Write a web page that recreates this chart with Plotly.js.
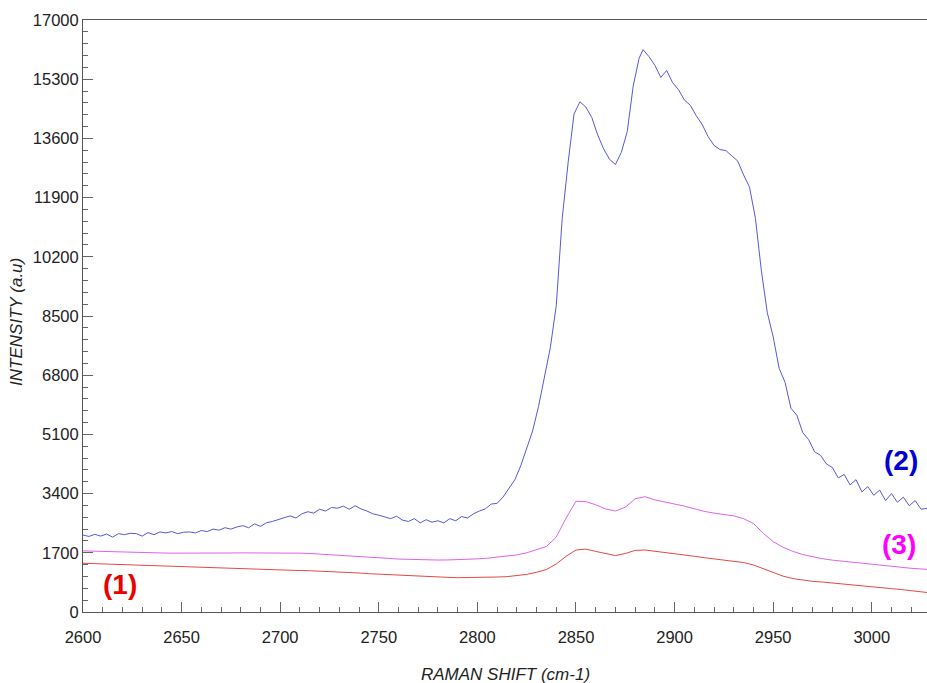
<!DOCTYPE html>
<html>
<head>
<meta charset="utf-8">
<script src="https://cdn.plot.ly/plotly-3.0.1.min.js"></script>
<style>
html,body{margin:0;padding:0;background:#fff;}
#chart{width:927px;height:683px;}
</style>
</head>
<body>
<div id="chart"></div>
<script>
// Raman shift (cm-1) and intensity (a.u.)
const shift2 = [2600,2603,2606,2609,2612,2615,2618,2621,2624,2627,2630,2633,2636,2639,2642,2645,2648,2651,2654,2657,2660,2663,2666,2669,2672,2675,2678,2681,2684,2687,2690,2693,2696,2699,2702,2705,2708,2711,2714,2717,2720,2723,2726,2729,2732,2735,2738,2741,2744,2747,2750,2753,2756,2759,2762,2765,2768,2771,2774,2777,2780,2783,2786,2789,2792,2795,2798,2801,2804,2807,2810,2813,2816,2819,2822,2825,2828,2831,2834,2837,2840,2843,2846,2849,2852,2855,2858,2861,2864,2867,2870,2873,2876,2879,2882,2884,2887,2890,2893,2896,2899,2902,2905,2908,2911,2914,2917,2920,2923,2926,2929,2932,2935,2938,2941,2944,2947,2950,2953,2956,2959,2962,2965,2968,2971,2974,2977,2980,2983,2986,2989,2992,2995,2998,3001,3004,3007,3010,3013,3016,3019,3022,3025,3028];
const intensity2 = [2210,2170,2230,2180,2240,2150,2250,2220,2260,2250,2180,2280,2220,2300,2270,2310,2250,2290,2300,2270,2340,2310,2380,2350,2420,2380,2440,2480,2420,2530,2460,2560,2600,2650,2700,2760,2700,2820,2880,2840,2950,2900,3000,2980,3040,2950,3050,2960,2900,2820,2780,2720,2680,2750,2640,2600,2680,2560,2650,2580,2620,2560,2680,2620,2740,2700,2820,2900,2960,3100,3120,3300,3550,3800,4200,4700,5200,5900,6700,7600,8800,11300,12900,14300,14650,14500,14200,13700,13300,13000,12850,13200,13800,15100,15900,16150,15950,15700,15350,15550,15200,15000,14700,14550,14250,14000,13650,13400,13280,13250,13100,12950,12550,12200,11300,9800,8600,7900,7000,6600,5850,5650,5150,4950,4600,4500,4250,4150,3850,3950,3650,3800,3450,3600,3350,3500,3200,3400,3150,3300,3050,3200,2950,2980];

const shift13 = [2600,2605,2610,2615,2620,2625,2630,2635,2640,2645,2650,2655,2660,2665,2670,2675,2680,2685,2690,2695,2700,2705,2710,2715,2720,2725,2730,2735,2740,2745,2750,2755,2760,2765,2770,2775,2780,2785,2790,2795,2800,2805,2810,2815,2820,2825,2830,2835,2840,2845,2850,2855,2860,2865,2870,2875,2880,2885,2890,2895,2900,2905,2910,2915,2920,2925,2930,2935,2940,2945,2950,2955,2960,2965,2970,2975,2980,2985,2990,2995,3000,3005,3010,3015,3020,3025,3028];
const intensity1 = [1400,1390,1375,1365,1350,1340,1330,1320,1310,1305,1300,1290,1275,1265,1255,1245,1235,1225,1215,1210,1205,1200,1190,1185,1175,1160,1150,1135,1120,1100,1085,1070,1055,1040,1020,1010,1000,995,985,985,990,995,1005,1015,1040,1080,1140,1220,1380,1600,1780,1805,1740,1670,1620,1680,1770,1780,1745,1720,1690,1650,1600,1560,1520,1490,1460,1420,1350,1250,1130,1030,960,910,880,860,830,800,770,745,720,695,670,645,615,580,560];
const intensity3 = [1755,1745,1735,1725,1715,1710,1705,1700,1695,1690,1688,1685,1683,1685,1690,1695,1698,1700,1702,1705,1705,1700,1690,1680,1665,1645,1625,1605,1590,1575,1560,1540,1520,1510,1500,1495,1492,1495,1500,1510,1525,1545,1570,1600,1640,1700,1780,1880,2150,2700,3180,3170,3080,2960,2900,3010,3250,3310,3220,3150,3100,3040,2960,2890,2840,2800,2760,2680,2540,2260,2020,1860,1740,1650,1580,1530,1490,1460,1420,1395,1370,1340,1310,1280,1255,1235,1225];

const labelText = ["(1)","(2)","(3)"];
const labelX = [2619,3015,3014];
const labelY = [780,4340,1930];

const traces = [
  {x: shift13, y: intensity1, mode:'lines', line:{color:'rgb(228,72,72)', width:1}, showlegend:false, hoverinfo:'skip'},
  {x: shift13, y: intensity3, mode:'lines', line:{color:'rgb(222,100,232)', width:1}, showlegend:false, hoverinfo:'skip'},
  {x: shift2, y: intensity2, mode:'lines', line:{color:'rgb(88,88,218)', width:1}, showlegend:false, hoverinfo:'skip'}
];

const labelColors = ['rgb(235,0,0)','rgb(0,0,215)','rgb(255,0,255)'];
const annotations = labelText.map((t,i)=>({
  x: labelX[i], y: labelY[i], xref:'x', yref:'y', text:'<b>'+t+'</b>', showarrow:false,
  font:{family:'Liberation Sans, Arial, sans-serif', size:28, color:labelColors[i]},
  xanchor:'center', yanchor:'middle'
}));
annotations.push({
  text:'RAMAN SHIFT (cm-1)', xref:'paper', yref:'paper', x:0.5, y:0, yshift:-62,
  showarrow:false, xanchor:'center', yanchor:'middle',
  font:{family:'Liberation Sans, Arial, sans-serif', size:17, color:'#222', style:'italic'}
});
annotations.push({
  text:'INTENSITY (a.u)', xref:'paper', yref:'paper', x:0, xshift:-66, y:0.49, textangle:-90,
  showarrow:false, xanchor:'center', yanchor:'middle',
  font:{family:'Liberation Sans, Arial, sans-serif', size:17, color:'#222', style:'italic'}
});

const layout = {
  width:927, height:683,
  margin:{l:83, r:0, t:20, b:71},
  paper_bgcolor:'#fff', plot_bgcolor:'#fff',
  font:{family:'Liberation Sans, Arial, sans-serif', size:16, color:'#222'},
  xaxis:{
    range:[2600,3028], tickmode:'linear', tick0:2600, dtick:50, tickformat:'d', ticks:'inside', ticklen:10, tickcolor:'#666', tickwidth:1,
    showline:true, linecolor:'#555', linewidth:1, mirror:true, showgrid:false, zeroline:false,
    ticklabelstandoff:10,
    minor:{dtick:10, tick0:2600, ticks:'inside', ticklen:5, tickcolor:'#666', showgrid:false},
    tickfont:{size:16.5, color:'#222'}
  },
  yaxis:{
    range:[0,17000], tickmode:'linear', tick0:0, dtick:1700, tickformat:'d', ticks:'inside', ticklen:10, tickcolor:'#666', tickwidth:1,
    showline:true, linecolor:'#555', linewidth:1, showgrid:false, zeroline:false,
    minor:{dtick:340, tick0:0, ticks:'inside', ticklen:5, tickcolor:'#666', showgrid:false},
    tickfont:{size:16.5, color:'#222'}
  },
  annotations: annotations
};

Plotly.newPlot('chart', traces, layout, {staticPlot:true, displayModeBar:false});
</script>
</body>
</html>
